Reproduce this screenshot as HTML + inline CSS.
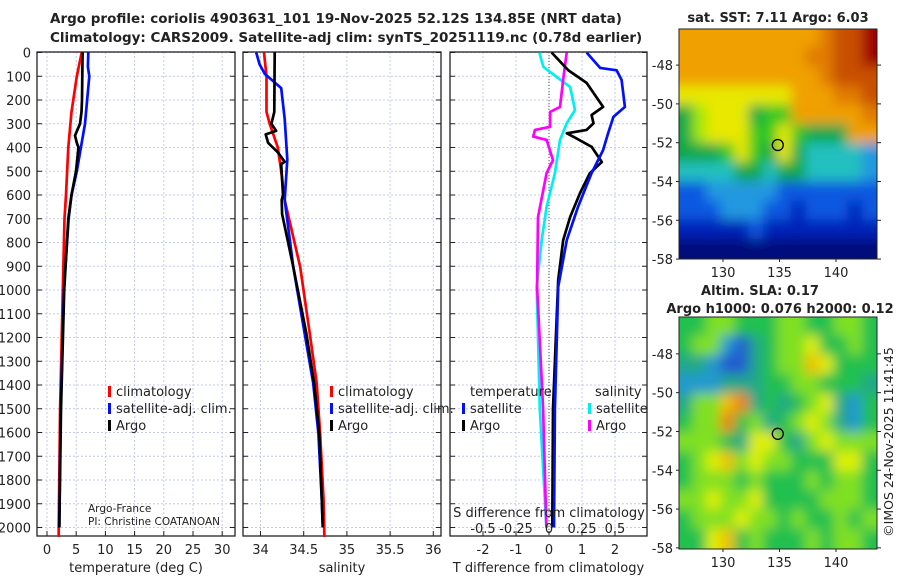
<!DOCTYPE html>
<html><head><meta charset="utf-8"><style>
body{margin:0;background:#fff;width:900px;height:580px;overflow:hidden}
svg text{font-family:"DejaVu Sans","Liberation Sans",sans-serif;fill:#222}
</style></head><body>
<svg id="c" width="900" height="580" xmlns="http://www.w3.org/2000/svg">
<text x="50" y="23" font-size="13.5" font-weight="bold">Argo profile: coriolis 4903631_101 19-Nov-2025 52.12S 134.85E (NRT data)</text>
<text x="50" y="42" font-size="13.5" font-weight="bold">Climatology: CARS2009. Satellite-adj clim: synTS_20251119.nc (0.78d earlier)</text>
<g id="g"></g>
</svg>
<script>
// ---- data ----
const depthTicks=[0,100,200,300,400,500,600,700,800,900,1000,1100,1200,1300,1400,1500,1600,1700,1800,1900,2000];
const tTicks=[0,5,10,15,20,25,30];
const sTicks=[34,34.5,35,35.5,36];
const sTickLabels=["34","34.5","35","35.5","36"];
const dTicks=[-2,-1,0,1,2];
const sdTicks=[-0.5,-0.25,0,0.25,0.5];
const sdTickLabels=["-0.5","-0.25","0","0.25","0.5"];
// temperature profiles [depth, value]
const tempClim=[[0,5.94],[100,5.1],[250,4.2],[400,3.65],[600,3.25],[700,3.0],[1000,2.7],[1500,2.25],[2000,2.0],[2040,2.0]];
const tempSat=[[0,7.07],[60,7.0],[100,7.25],[300,6.5],[500,5.1],[600,4.2],[700,3.7],[1000,2.9],[1500,2.35],[2000,2.1]];
const tempArgo=[[0,6.1],[200,6.0],[250,5.9],[300,5.65],[350,4.8],[380,5.1],[400,5.4],[500,4.97],[600,4.2],[700,3.64],[1000,2.95],[1500,2.4],[2000,2.1]];
// salinity profiles
const salClim=[[0,34.04],[100,34.07],[250,34.07],[300,34.107],[400,34.2],[500,34.24],[621,34.28],[903,34.46],[1182,34.57],[1392,34.65],[1603,34.69],[1884,34.73],[2040,34.74]];
const salSat=[[0,33.95],[50,33.99],[90,34.05],[150,34.24],[280,34.28],[450,34.31],[621,34.28],[903,34.38],[1182,34.51],[1392,34.61],[1603,34.67],[1884,34.71],[1981,34.72]];
const salArgo=[[0,34.164],[250,34.16],[300,34.126],[330,34.18],[345,34.06],[380,34.088],[420,34.2],[460,34.28],[470,34.24],[600,34.26],[621,34.245],[680,34.25],[903,34.38],[1182,34.53],[1392,34.62],[1603,34.68],[1884,34.71],[2000,34.72]];
// differences
const dtSat=[[0,1.14],[65,1.55],[75,2.05],[116,2.2],[229,2.3],[271,1.95],[340,1.79],[411,1.64],[508,1.29],[650,0.88],[790,0.54],[987,0.28],[1500,0.18],[2000,0.15]];
const dtArgo=[[0,0.08],[74,0.58],[128,1.14],[229,1.64],[263,1.29],[298,1.35],[326,1.14],[340,0.54],[354,0.73],[397,1.29],[461,1.6],[508,1.24],[592,0.94],[693,0.64],[790,0.43],[958,0.28],[1500,0.12],[2000,0.1]];
const dsSat=[[0,-0.073],[60,-0.043],[103,0.058],[145,0.16],[242,0.197],[298,0.134],[368,0.083],[508,0.045],[650,-0.018],[790,-0.055],[987,-0.093],[1500,-0.07],[2000,-0.02]];
const dsArgo=[[0,0.134],[103,0.11],[229,0.083],[250,0.008],[313,0.008],[326,-0.106],[354,-0.12],[368,-0.018],[453,0.03],[508,-0.018],[693,-0.083],[987,-0.09],[1500,-0.045],[2000,-0.02]];
// map grids (rows north->south), level codes
const sstRows=["9999999999abbc","999999999aabbc","9999999999abbb","88888888999aab","5788856699999a","57888668655599","55568658544443","44445545544443","22333332222222","22233322122212","11111211111111","00000000000000"];
const slaRows=["33443334433443","34410234453343","22100234465333","11122233443332","24467232345213","34473423454213","44432553245444","34564544333553","34443433343443","44544533334443","34445443433434","33563433343443"];
const sstPal={"0":"#00087a","1":"#0020b8","2":"#1058e0","3":"#2098e0","4":"#20c0c0","5":"#10a848","6":"#30c820","7":"#a0e800","8":"#e8e800","9":"#f0a000","a":"#e07a00","b":"#c85000","c":"#a00000"};
const slaPal={"0":"#2058d0","1":"#2098d0","2":"#20a888","3":"#20c050","4":"#80e020","5":"#e0f000","6":"#f0c000","7":"#f08000"};
const argoPos=[134.85,-52.12];

const NS="http://www.w3.org/2000/svg";
const G=document.getElementById('g');
function mk(t,a,p){const e=document.createElementNS(NS,t);for(const k in a)e.setAttribute(k,a[k]);(p||G).appendChild(e);return e;}
const yD=d=>52.5+d*0.2375;
const panels=[
 {x0:37,x1:235,fx:v=>47+v*5.84,ticks:tTicks,labels:tTicks.map(String),xl:"temperature (deg C)",name:"temperature"},
 {x0:243,x1:441,fx:v=>260.5+(v-34)*86.4,ticks:sTicks,labels:sTickLabels,xl:"salinity",name:"salinity"},
 {x0:450,x1:647,fx:v=>549+v*33,ticks:dTicks,labels:dTicks.map(String),xl:"T difference from climatology",name:"difference"}];
panels.forEach((p,i)=>{
 depthTicks.forEach(d=>{const l=mk('line',{x1:p.x0,x2:p.x1,y1:yD(d),y2:yD(d),stroke:'#c4cbee','stroke-width':1,'stroke-dasharray':'2,2'});
  
  
  mk('line',{x1:p.x0,x2:p.x0+5,y1:yD(d),y2:yD(d),stroke:'#222'});mk('line',{x1:p.x1-5,x2:p.x1,y1:yD(d),y2:yD(d),stroke:'#222'});});
 p.ticks.forEach((v,k)=>{const x=p.fx(v);mk('line',{x1:x,x2:x,y1:52,y2:536,stroke:'#c4cbee','stroke-dasharray':'2,2'});
  mk('line',{x1:x,x2:x,y1:536,y2:531,stroke:'#222'});
  const t=mk('text',{x:x,y:554,'font-size':13,'text-anchor':'middle'});t.textContent=p.labels[k];
  
  });
 const r=mk('rect',{x:p.x0,y:52,width:p.x1-p.x0,height:484,fill:'none',stroke:'#222','stroke-width':1.3});
 
 
 const xl=mk('text',{x:(p.x0+p.x1)/2,y:572,'font-size':13,'text-anchor':'middle'});xl.textContent=p.xl;
 
 
});
depthTicks.forEach(d=>{const t=mk('text',{x:31,y:yD(d)+5,'font-size':13,'text-anchor':'end'});t.textContent=d;
 
 });
const z=mk('line',{x1:549,x2:549,y1:52,y2:536,stroke:'#555','stroke-dasharray':'1,2'});


function line(data,fx,col,name){const pts=data.map(([d,v])=>fx(v).toFixed(1)+','+yD(d).toFixed(1)).join(' ');
 const l=mk('polyline',{points:pts,fill:'none',stroke:col,'stroke-width':2.7,'stroke-linejoin':'round'});
 
 }
const fT=panels[0].fx,fS=panels[1].fx,fD=panels[2].fx,fSD=v=>549+v*132;
line(tempClim,fT,'#f00','temp-climatology-line');line(tempSat,fT,'#0010ff','temp-satellite-line');line(tempArgo,fT,'#000','temp-argo-line');
line(salClim,fS,'#f00','sal-climatology-line');line(salSat,fS,'#0010ff','sal-satellite-line');line(salArgo,fS,'#000','sal-argo-line');
line(dsSat,fSD,'#00f0f0','s-diff-satellite-line');line(dsArgo,fSD,'#ff00ff','s-diff-argo-line');
line(dtArgo,fD,'#000','t-diff-argo-line');line(dtSat,fD,'#0010ff','t-diff-satellite-line');
const sl=mk('text',{x:549,y:517,'font-size':13,'text-anchor':'middle'});sl.textContent="S difference from climatology";


sdTicks.forEach((v,k)=>{const t=mk('text',{x:fSD(v),y:533,'font-size':13,'text-anchor':'middle'});t.textContent=sdTickLabels[k];
 
 });
function leg(x,y,col,txt,name){mk('rect',{x:x,y:y-10,width:3,height:11,fill:col});const t=mk('text',{x:x+8,y:y,'font-size':13});t.textContent=txt;
 
 }
leg(108,396,'#f00','climatology','legend-climatology');leg(108,413,'#0010ff','satellite-adj. clim.','legend-satellite');leg(108,430,'#000','Argo','legend-argo');
leg(330,396,'#f00','climatology','legend-climatology-2');leg(330,413,'#0010ff','satellite-adj. clim.','legend-satellite-2');leg(330,430,'#000','Argo','legend-argo-2');
let t0=mk('text',{x:470,y:396,'font-size':13});t0.textContent='temperature';
leg(462,413,'#0010ff','satellite','legend-t-satellite');leg(462,430,'#000','Argo','legend-t-argo');
let t1=mk('text',{x:595,y:396,'font-size':13});t1.textContent='salinity';
leg(588,413,'#00f0f0','satellite','legend-s-satellite');leg(588,430,'#ff00ff','Argo','legend-s-argo');
let c1=mk('text',{x:88,y:512,'font-size':10.5});c1.textContent='Argo-France';
let c2=mk('text',{x:88,y:525,'font-size':10.5});c2.textContent='PI: Christine COATANOAN';
function map(y0,y1,rows,pal,name,latTop){
 const x0=679,x1=877,nr=rows.length,nc=rows[0].length,cw=(x1-x0)/nc,ch=(y1-y0)/nr,E=14;
 const cp=mk('clipPath',{id:'cp'+name});mk('rect',{x:x0,y:y0,width:x1-x0,height:y1-y0},cp);
 const g=mk('g',{'clip-path':'url(#cp'+name+')'});
 const gi=mk('g',{filter:'url(#bl)'},g);
 rows.forEach((r,i)=>[...r].forEach((c,j)=>{
  let rx=x0+j*cw-1,ry=y0+i*ch-1,rw=cw+2,rh=ch+2;
  if(j===0){rx-=E;rw+=E;} if(j===nc-1){rw+=E;}
  if(i===0){ry-=E;rh+=E;} if(i===nr-1){rh+=E;}
  const e=mk('rect',{x:rx,y:ry,width:rw,height:rh,fill:pal[c]},gi);
  
  }));
 const fr=mk('rect',{x:x0,y:y0,width:x1-x0,height:y1-y0,fill:'none',stroke:'#222'});
 
 
 const yl=lat=>y0+(latTop-lat)*19.4, xl=lon=>723+(lon-130)*11.3;
 [-48,-50,-52,-54,-56,-58].forEach(l=>{const t=mk('text',{x:673,y:yl(l)+5,'font-size':13,'text-anchor':'end'});t.textContent=l;
  
  
  mk('line',{x1:x1,x2:x1+4,y1:yl(l),y2:yl(l),stroke:'#222'});mk('line',{x1:x0,x2:x0-3,y1:yl(l),y2:yl(l),stroke:'#222'});});
 [130,135,140].forEach(l=>{const t=mk('text',{x:xl(l),y:y1+18,'font-size':13,'text-anchor':'middle'});t.textContent=l;
  
  
  mk('line',{x1:xl(l),x2:xl(l),y1:y1,y2:y1+3,stroke:'#222'});});
 const ci=mk('circle',{cx:xl(argoPos[0]),cy:yl(argoPos[1]),r:5.5,fill:'none',stroke:'#000','stroke-width':1.3});
 
 
}
const defs=mk('defs',{});const f=mk('filter',{id:'bl',x:'-10%',y:'-10%',width:'120%',height:'120%'},defs);mk('feGaussianBlur',{stdDeviation:6},f);
map(29,259,sstRows,sstPal,'sst',-46.14);
map(317,549,slaRows,slaPal,'sla',-46.1);
function tx(x,y,s,txt,name,anchor,extra){const t=mk('text',Object.assign({x:x,y:y,'font-size':s,'text-anchor':anchor||'middle'},extra||{}));t.textContent=txt;
 
 }
tx(778,22,13,'sat. SST: 7.11 Argo: 6.03','sst-map-title','middle',{'font-weight':'bold'});
tx(760,295,13,'Altim. SLA: 0.17','sla-map-title','middle',{'font-weight':'bold'});
tx(780,313,13,'Argo h1000: 0.076 h2000: 0.12','sla-map-subtitle','middle',{'font-weight':'bold'});
tx(0,0,12.5,'©IMOS 24-Nov-2025 11:41:45','imos-credit','middle',{transform:'translate(893,442) rotate(-90)'});
</script>
</body></html>
